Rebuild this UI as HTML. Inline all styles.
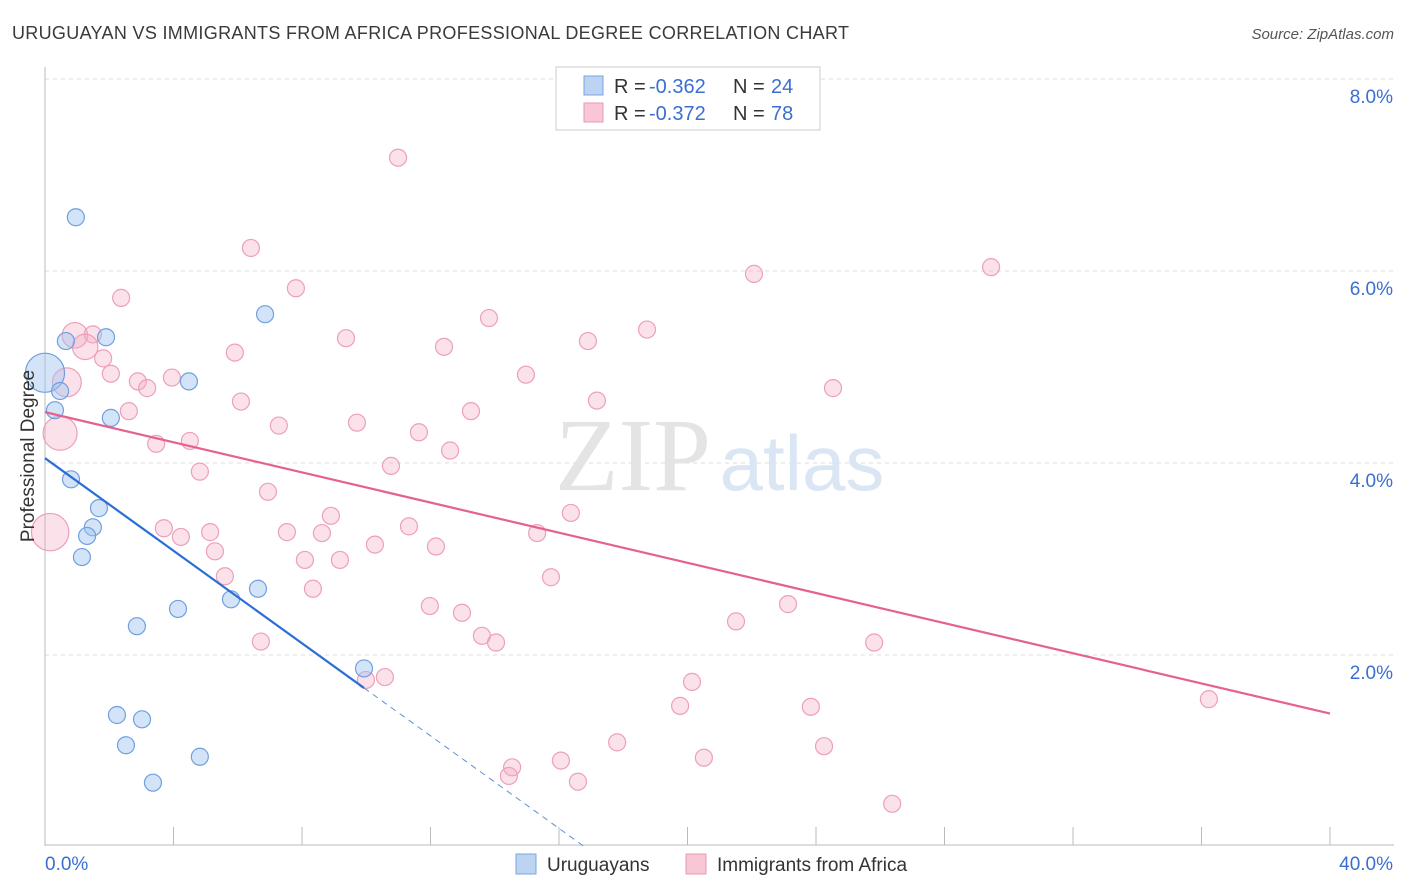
<!DOCTYPE html>
<html><head><meta charset="utf-8"><style>
body{margin:0;background:#fff;font-family:"Liberation Sans",sans-serif;}
svg{display:block}
</style></head><body>
<svg id="chart" width="1406" height="892">
<text x="12" y="39" font-size="18" fill="#3a3a3a" textLength="837">URUGUAYAN VS IMMIGRANTS FROM AFRICA PROFESSIONAL DEGREE CORRELATION CHART</text>
<text x="1394" y="39" font-size="15" fill="#555" font-style="italic" text-anchor="end">Source: ZipAtlas.com</text>
<g id="grid"></g>
<text x="633" y="490" font-size="104" fill="#e4e4e4" font-family="Liberation Serif,serif" text-anchor="middle">ZIP</text>
<text x="802" y="490" font-size="78" fill="#dbe6f5" text-anchor="middle">atlas</text>
<g id="marks"></g>
<text transform="translate(34,456) rotate(-90)" font-size="19" fill="#333" text-anchor="middle">Professional Degree</text>
<g>
<rect x="556" y="67" width="264" height="63" fill="#fff" stroke="#ccc"/>
<rect x="584" y="76" width="19" height="19" fill="#bcd3f2" stroke="#7aa6e3"/>
<text x="614" y="93" font-size="20" fill="#333">R =</text>
<text x="649" y="93" font-size="20" fill="#3a6fd0">-0.362</text>
<text x="733" y="93" font-size="20" fill="#333">N =</text>
<text x="771" y="93" font-size="20" fill="#3a6fd0">24</text>
<rect x="584" y="103" width="19" height="19" fill="#f8c6d5" stroke="#e99ab3"/>
<text x="614" y="120" font-size="20" fill="#333">R =</text>
<text x="649" y="120" font-size="20" fill="#3a6fd0">-0.372</text>
<text x="733" y="120" font-size="20" fill="#333">N =</text>
<text x="771" y="120" font-size="20" fill="#3a6fd0">78</text>
</g>
<g>
<rect x="516" y="854" width="20" height="20" fill="#bcd3f2" stroke="#7aa6e3"/>
<text x="547" y="871" font-size="19" fill="#333">Uruguayans</text>
<rect x="686" y="854" width="20" height="20" fill="#f8c6d5" stroke="#e99ab3"/>
<text x="717" y="871" font-size="19" fill="#333">Immigrants from Africa</text>
</g>
</svg>
<script>
const xTicksLabels=["0.0%","40.0%"];
const yTickValues=[2,4,6,8];
const blueX=[0.96,0.65,1.90,6.85,4.48,0.0,0.47,0.31,2.05,0.81,1.68,1.49,1.31,1.15,4.14,5.79,6.63,2.86,2.24,3.02,2.52,4.82,3.36,9.93];
const blueY=[6.56,5.27,5.31,5.55,4.85,4.94,4.75,4.55,4.47,3.83,3.53,3.33,3.24,3.02,2.48,2.58,2.69,2.30,1.375,1.33,1.06,0.94,0.67,1.86];
const blueW=[1,1,1,1,1,2.3,1,1,1,1,1,1,1,1,1,1,1,1,1,1,1,1,1,1];
const pinkX=[10.99,6.41,22.07,29.45,2.37,7.81,13.82,18.74,9.37,16.90,0.93,1.49,1.25,5.91,12.42,1.81,2.05,14.97,0.68,2.89,3.95,3.18,24.53,6.10,17.18,2.61,13.26,9.71,7.28,11.64,0.47,3.46,4.51,12.61,10.77,4.82,6.94,16.37,8.90,11.33,3.70,5.14,7.53,4.23,8.62,15.32,10.27,12.17,5.29,0.16,8.09,9.18,5.60,15.75,8.34,23.13,11.98,12.98,21.51,13.60,14.04,6.72,25.81,20.14,9.99,10.58,36.23,19.77,23.84,17.81,24.25,16.06,20.51,14.54,14.44,16.59,26.37];
const pinkY=[7.18,6.24,5.97,6.04,5.72,5.82,5.51,5.39,5.30,5.27,5.33,5.34,5.21,5.15,5.21,5.09,4.93,4.92,4.84,4.85,4.89,4.78,4.78,4.64,4.65,4.54,4.54,4.42,4.39,4.32,4.31,4.20,4.23,4.13,3.97,3.91,3.70,3.48,3.45,3.34,3.32,3.28,3.28,3.23,3.27,3.27,3.15,3.13,3.08,3.28,2.99,2.99,2.82,2.81,2.69,2.53,2.51,2.44,2.35,2.20,2.13,2.14,2.13,1.72,1.74,1.77,1.54,1.47,1.46,1.09,1.05,0.90,0.93,0.83,0.74,0.68,0.45];
const pinkW=[1,1,1,1,1,1,1,1,1,1,1.5,1,1.5,1,1,1,1,1,1.7,1,1,1,1,1,1,1,1,1,1,1,2,1,1,1,1,1,1,1,1,1,1,1,1,1,1,1,1,1,1,2.2,1,1,1,1,1,1,1,1,1,1,1,1,1,1,1,1,1,1,1,1,1,1,1,1,1,1,1];
const blueTrend=[4.05,-0.241];
const pinkTrend=[4.53,-0.0785];
const NS="http://www.w3.org/2000/svg";
const X=v=>45+v*32.125, Y=v=>847-v*96;
function mk(t,a,p){const e=document.createElementNS(NS,t);for(const k in a)e.setAttribute(k,a[k]);p.appendChild(e);return e;}
const grid=document.getElementById('grid'), marks=document.getElementById('marks');
yTickValues.forEach(v=>{
 const l=mk('line',{x1:45,x2:1394,y1:Y(v),y2:Y(v),stroke:'#ddd','stroke-dasharray':'4,4'},grid);
 
 
 const t=mk('text',{x:1393,y:Y(v)+24,'font-size':19,fill:'#3a6fd0','text-anchor':'end'},grid);
 t.textContent=v.toFixed(1)+'%';
 
 
});
mk('line',{x1:45,x2:45,y1:67,y2:846,stroke:'#bbb'},grid);
mk('line',{x1:45,x2:1394,y1:845,y2:845,stroke:'#bbb'},grid);
for(let i=0;i<=10;i++){const l=mk('line',{x1:X(i*4),x2:X(i*4),y1:827,y2:845,stroke:'#bbb'},grid);
 
 }
[[0,'start',45],[40,'end',1393]].forEach((d,i)=>{const t=mk('text',{x:d[2],y:870,'font-size':19,fill:'#3a6fd0','text-anchor':d[1]},grid);t.textContent=xTicksLabels[i];
 
 });
pinkX.forEach((x,i)=>{const c=mk('circle',{cx:X(x),cy:Y(pinkY[i]),r:8.5*pinkW[i],fill:'rgba(244,170,195,0.35)',stroke:'#eda0b8','stroke-width':1.2},marks);
 
 });
blueX.forEach((x,i)=>{const c=mk('circle',{cx:X(x),cy:Y(blueY[i]),r:8.5*blueW[i],fill:'rgba(160,195,240,0.45)',stroke:'#6f9fe0','stroke-width':1.2},marks);
 
 });
const bEnd=9.93, bZero=-blueTrend[0]/blueTrend[1];
let l=mk('line',{x1:X(0),y1:Y(blueTrend[0]),x2:X(bEnd),y2:Y(blueTrend[0]+blueTrend[1]*bEnd),stroke:'#2a6fd6','stroke-width':2.2},marks);


l=mk('line',{x1:X(bEnd),y1:Y(blueTrend[0]+blueTrend[1]*bEnd),x2:X(bZero),y2:Y(0),stroke:'#5b8fdc','stroke-width':1,'stroke-dasharray':'6,5'},marks);


l=mk('line',{x1:X(0),y1:Y(pinkTrend[0]),x2:X(40),y2:Y(pinkTrend[0]+pinkTrend[1]*40),stroke:'#e4628f','stroke-width':2.2},marks);


</script>
</body></html>
